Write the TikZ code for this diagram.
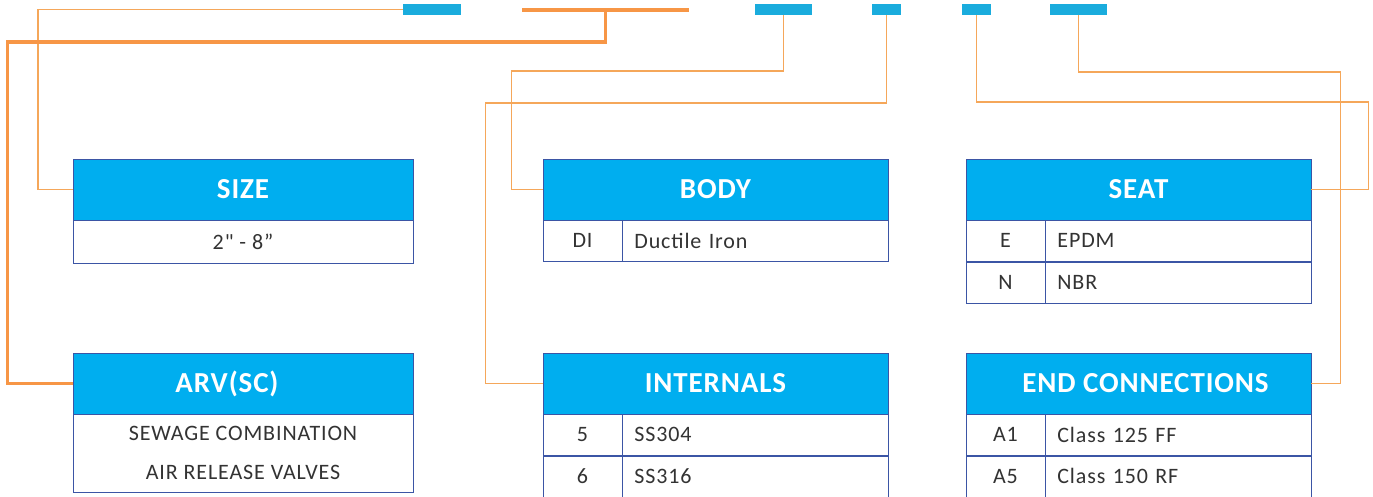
\documentclass[tikz,border=0pt]{standalone}
\usepackage{fontspec}
\setmainfont{Carlito}
\newfontfamily\headfont[LetterSpace=3]{Carlito}
\newfontfamily\cellfont[LetterSpace=4]{Carlito}
\usetikzlibrary{positioning}
\definecolor{headblue}{HTML}{00AEEF}
\definecolor{barblue}{HTML}{1AACDD}
\definecolor{frameblue}{HTML}{3B55A5}
\definecolor{linkorange}{HTML}{F5A75A}
\definecolor{mainorange}{HTML}{F79646}
\definecolor{txtgray}{HTML}{333333}

\begin{document}
\begin{tikzpicture}[x=1pt, y=-1pt,
  head/.style={draw=frameblue, fill=headblue, text=white, inner sep=0pt,
    font=\headfont\fontsize{29}{29}\selectfont\bfseries, minimum height=61pt},
  cell/.style={draw=frameblue, fill=white, text=txtgray, inner sep=0pt,
    font=\cellfont\fontsize{22}{22}\selectfont, minimum height=41pt},
  keycell/.style={cell, minimum width=79pt},
  valcell/.style={cell, text width=242pt, inner xsep=12pt, align=left},
  bar/.style={fill=barblue, minimum height=11pt, inner sep=0pt},
  link/.style={draw=linkorange, line width=1.8pt},
  mainlink/.style={draw=mainorange, line width=3.2pt}]

  \useasboundingbox (0,0) rectangle (1373,497);

  % code bars on top
  \node[bar, minimum width=58pt] (sizebar) at (432,9.5) {};
  \node[fill=mainorange, minimum width=167pt, minimum height=3.2pt, inner sep=0pt] (arvbar) at (605.5,10) {};
  \node[bar, minimum width=57pt] (bodybar) at (783.5,9.5) {};
  \node[bar, minimum width=29pt] (intbar) at (886.5,9.5) {};
  \node[bar, minimum width=29pt] (seatbar) at (976.5,9.5) {};
  \node[bar, minimum width=57pt] (endbar) at (1078.5,9.5) {};

  % upper row of tables
  \node[head, minimum width=340pt] (size) at (243,189.5) {SIZE};
  \node[cell, minimum width=340pt, minimum height=43pt, below=0pt of size] (sizerow) {2\symbol{"22} - 8”};

  \node[head, minimum width=345pt] (body) at (715.5,189.5) {BODY};
  \node[keycell, below right=0pt of body.south west] (dikey) {DI};
  \node[valcell, right=0pt of dikey] (dival) {Ductile Iron};

  \node[head, minimum width=345pt] (seat) at (1138.5,189.5) {SEAT};
  \node[keycell, below right=0pt of seat.south west] (ekey) {E};
  \node[valcell, right=0pt of ekey] (eval) {EPDM};
  \node[keycell, below=0pt of ekey] (nkey) {N};
  \node[valcell, right=0pt of nkey] (nval) {NBR};

  % lower row of tables
  \node[head, minimum width=340pt] (arv) at (243,383.5) {ARV(SC)\hspace*{32pt}};
  \node[cell, minimum width=340pt, minimum height=78pt, align=center,
    font=\cellfont\fontsize{22}{39}\selectfont, below=0pt of arv] (arvrow)
    {SEWAGE COMBINATION\\AIR RELEASE VALVES};

  \node[head, minimum width=345pt] (internals) at (715.5,383.5) {INTERNALS};
  \node[keycell, below right=0pt of internals.south west] (fivekey) {5};
  \node[valcell, right=0pt of fivekey] (fiveval) {SS304};
  \node[keycell, below=0pt of fivekey] (sixkey) {6};
  \node[valcell, right=0pt of sixkey] (sixval) {SS316};

  \node[head, minimum width=345pt] (endconn) at (1138.5,383.5) {\hspace*{14pt}END CONNECTIONS};
  \node[keycell, below right=0pt of endconn.south west] (aonekey) {A1};
  \node[valcell, right=0pt of aonekey] (aoneval) {Class 125 FF};
  \node[keycell, below=0pt of aonekey] (afivekey) {A5};
  \node[valcell, right=0pt of afivekey] (afiveval) {Class 150 RF};

  % leader lines
  \draw[link] (sizebar.west) -- ++(-365,0) |- (size.west);
  \draw[mainlink] (arvbar.center) -- ++(0,32) -- ++(-598,0) |- (arv.west);
  \draw[link] (bodybar.south) |- ++(-272,56) |- (body.west);
  \draw[link] (intbar.south) |- ++(-401,88) |- (internals.west);
  \draw[link] (seatbar.south) |- ++(392,87) |- (seat.east);
  \draw[link] (endbar.south) |- ++(262,57) |- (endconn.east);
\end{tikzpicture}
\end{document}
